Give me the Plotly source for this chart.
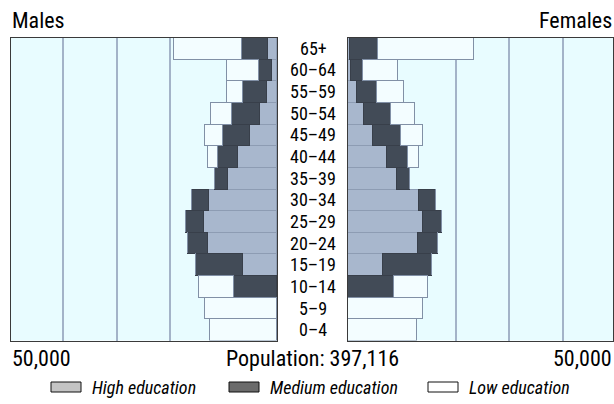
import plotly.graph_objects as go

# ---- data ----
age_groups = ["0–4", "5–9", "10–14", "15–19", "20–24", "25–29", "30–34",
              "35–39", "40–44", "45–49", "50–54", "55–59", "60–64", "65+"]

males_high = [0, 0, 0, 6300, 12900, 13700, 12700, 9200, 7300, 5100, 3200, 1900, 1000, 1600]
males_medium = [0, 0, 8100, 8800, 3800, 3300, 3300, 2500, 3800, 5000, 5300, 4400, 2400, 5000]
males_low = [12600, 13500, 6500, 0, 0, 0, 0, 0, 1900, 3400, 3900, 3100, 6000, 12700]

females_high = [0, 0, 0, 6500, 13000, 14000, 13200, 9200, 7300, 4700, 2900, 1600, 500, 300]
females_medium = [0, 0, 8500, 9200, 3800, 3400, 3200, 2400, 3800, 5100, 5100, 3800, 2200, 5300]
females_low = [12900, 14000, 6400, 0, 0, 0, 0, 0, 2200, 4100, 4400, 5000, 6600, 17900]

grid_values = [20000, 30000, 40000]
scale_label = "50,000"
total_label = "Population: 397,116"
series_names = ["High education", "Medium education", "Low education"]

# ---- styling ----
W, H = 614, 404
FONT = "Liberation Sans Narrow, Arial Narrow, Roboto Condensed, Roboto, sans-serif"
bar_fill = ["#a8b7cd", "#424b57", "#f3fdff"]
bar_line = ["#8d9cb3", "#383f4a", "#8190a6"]
legend_fill = ["#c4c4c4", "#6b6b6b", "#ffffff"]

def px_x(p):
    return p / W

def px_y(p):
    return (H - p) / H

fig = go.Figure()

for vals, xa, ya in [
    ((males_high, males_medium, males_low), "x", "y"),
    ((females_high, females_medium, females_low), "x2", "y2"),
]:
    for i, v in enumerate(vals):
        fig.add_trace(go.Bar(
            y=age_groups, x=v, orientation="h", name=series_names[i],
            xaxis=xa, yaxis=ya, showlegend=False,
            marker=dict(color=bar_fill[i], line=dict(color=bar_line[i], width=1)),
            width=1.0, hoverinfo="x+y",
        ))

axis_common = dict(
    showgrid=True, gridcolor="#a3b3c8", gridwidth=2, zeroline=False,
    showline=True, mirror=True, linecolor="#3a3a3a", linewidth=1,
    tickvals=grid_values, showticklabels=False, ticks="", fixedrange=True,
)
yaxis_common = dict(
    type="category", categoryorder="array", categoryarray=age_groups,
    range=[-0.5, len(age_groups) - 0.5], showgrid=False, zeroline=False,
    showline=True, mirror=True, linecolor="#3a3a3a", linewidth=1,
    showticklabels=False, ticks="", fixedrange=True,
    domain=[px_y(340.5), px_y(37.5)],
)

fig.update_layout(
    width=W, height=H, autosize=False,
    margin=dict(l=0, r=0, t=0, b=0, pad=0),
    paper_bgcolor="white", plot_bgcolor="#e8fcff",
    barmode="stack", bargap=0, showlegend=False,
    xaxis=dict(domain=[px_x(11), px_x(277)], range=[49800, 0], anchor="y", **axis_common),
    yaxis=dict(anchor="x", **yaxis_common),
    xaxis2=dict(domain=[px_x(348), px_x(613)], range=[0, 49300], anchor="y2", **axis_common),
    yaxis2=dict(anchor="x2", **yaxis_common),
    font=dict(family=FONT, color="black"),
)

ann = []
ann.append(dict(text="Males", x=px_x(10), y=px_y(20), xref="paper", yref="paper",
                xanchor="left", yanchor="middle", showarrow=False, font=dict(size=22, family=FONT)))
ann.append(dict(text="Females", x=px_x(614), y=px_y(20), xref="paper", yref="paper",
                xanchor="right", yanchor="middle", showarrow=False, font=dict(size=22, family=FONT)))
for a in age_groups:
    ann.append(dict(text=a, x=px_x(313), y=a, xref="paper", yref="y",
                    xanchor="center", yanchor="middle", showarrow=False,
                    font=dict(size=18, family=FONT)))
ann.append(dict(text=scale_label, x=px_x(10), y=px_y(358), xref="paper", yref="paper",
                xanchor="left", yanchor="middle", showarrow=False, font=dict(size=22, family=FONT)))
ann.append(dict(text=scale_label, x=px_x(614), y=px_y(358), xref="paper", yref="paper",
                xanchor="right", yanchor="middle", showarrow=False, font=dict(size=22, family=FONT)))
ann.append(dict(text=total_label, x=px_x(312), y=px_y(358), xref="paper", yref="paper",
                xanchor="center", yanchor="middle", showarrow=False, font=dict(size=22, family=FONT)))

shapes = []
legend_x = [51, 229, 428]
for i, name in enumerate(series_names):
    x0 = legend_x[i]
    shapes.append(dict(type="rect", xref="paper", yref="paper",
                       x0=px_x(x0), x1=px_x(x0 + 30), y0=px_y(392), y1=px_y(382),
                       fillcolor=legend_fill[i], line=dict(color="#111111", width=1)))
    ann.append(dict(text="<i>" + name + "</i>", x=px_x(x0 + 39), y=px_y(387), xref="paper", yref="paper",
                    xanchor="left", yanchor="middle", showarrow=False, font=dict(size=18, family=FONT)))

fig.update_layout(annotations=ann, shapes=shapes)
fig.write_html(
    "out.html",
    config={"displayModeBar": False},
    post_script="document.body.style.margin='0';document.body.style.overflow='hidden';",
)
